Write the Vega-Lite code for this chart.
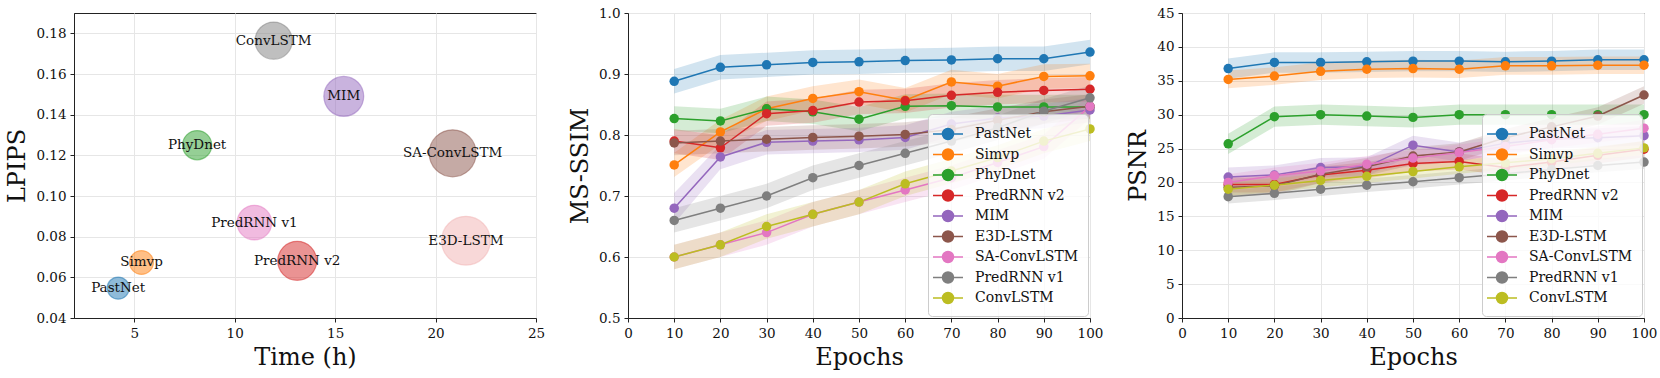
{
  "$schema": "https://vega.github.io/schema/vega-lite/v6.json",
  "padding": {"left": 5, "top": 5, "right": 5, "bottom": 5},
  "background": "white",
  "datasets": {
    "bubbles": [
      {"m": "PastNet", "time": 4.2, "lpips": 0.0547, "bubble": 490},
      {"m": "Simvp", "time": 5.36, "lpips": 0.0673, "bubble": 570},
      {"m": "PhyDnet", "time": 8.13, "lpips": 0.125, "bubble": 855},
      {"m": "ConvLSTM", "time": 11.94, "lpips": 0.1764, "bubble": 1385},
      {"m": "MIM", "time": 15.43, "lpips": 0.149, "bubble": 1590},
      {"m": "SA-ConvLSTM", "time": 20.85, "lpips": 0.121, "bubble": 2206},
      {"m": "PredRNN v1", "time": 10.98, "lpips": 0.0869, "bubble": 1195},
      {"m": "PredRNN v2", "time": 13.11, "lpips": 0.0681, "bubble": 1521},
      {"m": "E3D-LSTM", "time": 21.51, "lpips": 0.078, "bubble": 2376}
    ],
    "msssim": [
      {"m": "PastNet", "e": 10, "v": 0.888, "lo": 0.868, "hi": 0.908},
      {"m": "PastNet", "e": 20, "v": 0.911, "lo": 0.891, "hi": 0.931},
      {"m": "PastNet", "e": 30, "v": 0.915, "lo": 0.895, "hi": 0.935},
      {"m": "PastNet", "e": 40, "v": 0.919, "lo": 0.899, "hi": 0.939},
      {"m": "PastNet", "e": 50, "v": 0.920, "lo": 0.900, "hi": 0.940},
      {"m": "PastNet", "e": 60, "v": 0.922, "lo": 0.902, "hi": 0.942},
      {"m": "PastNet", "e": 70, "v": 0.923, "lo": 0.903, "hi": 0.943},
      {"m": "PastNet", "e": 80, "v": 0.925, "lo": 0.905, "hi": 0.945},
      {"m": "PastNet", "e": 90, "v": 0.925, "lo": 0.905, "hi": 0.945},
      {"m": "PastNet", "e": 100, "v": 0.936, "lo": 0.916, "hi": 0.956},
      {"m": "Simvp", "e": 10, "v": 0.751, "lo": 0.731, "hi": 0.771},
      {"m": "Simvp", "e": 20, "v": 0.805, "lo": 0.785, "hi": 0.825},
      {"m": "Simvp", "e": 30, "v": 0.843, "lo": 0.823, "hi": 0.863},
      {"m": "Simvp", "e": 40, "v": 0.860, "lo": 0.840, "hi": 0.880},
      {"m": "Simvp", "e": 50, "v": 0.871, "lo": 0.851, "hi": 0.891},
      {"m": "Simvp", "e": 60, "v": 0.857, "lo": 0.837, "hi": 0.877},
      {"m": "Simvp", "e": 70, "v": 0.887, "lo": 0.867, "hi": 0.907},
      {"m": "Simvp", "e": 80, "v": 0.880, "lo": 0.860, "hi": 0.900},
      {"m": "Simvp", "e": 90, "v": 0.896, "lo": 0.876, "hi": 0.916},
      {"m": "Simvp", "e": 100, "v": 0.897, "lo": 0.877, "hi": 0.917},
      {"m": "PhyDnet", "e": 10, "v": 0.827, "lo": 0.807, "hi": 0.847},
      {"m": "PhyDnet", "e": 20, "v": 0.823, "lo": 0.803, "hi": 0.843},
      {"m": "PhyDnet", "e": 30, "v": 0.843, "lo": 0.823, "hi": 0.863},
      {"m": "PhyDnet", "e": 40, "v": 0.838, "lo": 0.818, "hi": 0.858},
      {"m": "PhyDnet", "e": 50, "v": 0.826, "lo": 0.806, "hi": 0.846},
      {"m": "PhyDnet", "e": 60, "v": 0.847, "lo": 0.827, "hi": 0.867},
      {"m": "PhyDnet", "e": 70, "v": 0.848, "lo": 0.828, "hi": 0.868},
      {"m": "PhyDnet", "e": 80, "v": 0.846, "lo": 0.826, "hi": 0.866},
      {"m": "PhyDnet", "e": 90, "v": 0.846, "lo": 0.826, "hi": 0.866},
      {"m": "PhyDnet", "e": 100, "v": 0.846, "lo": 0.826, "hi": 0.866},
      {"m": "PredRNN v2", "e": 10, "v": 0.790, "lo": 0.770, "hi": 0.810},
      {"m": "PredRNN v2", "e": 20, "v": 0.779, "lo": 0.759, "hi": 0.799},
      {"m": "PredRNN v2", "e": 30, "v": 0.835, "lo": 0.815, "hi": 0.855},
      {"m": "PredRNN v2", "e": 40, "v": 0.840, "lo": 0.820, "hi": 0.860},
      {"m": "PredRNN v2", "e": 50, "v": 0.854, "lo": 0.834, "hi": 0.874},
      {"m": "PredRNN v2", "e": 60, "v": 0.856, "lo": 0.836, "hi": 0.876},
      {"m": "PredRNN v2", "e": 70, "v": 0.865, "lo": 0.845, "hi": 0.885},
      {"m": "PredRNN v2", "e": 80, "v": 0.870, "lo": 0.850, "hi": 0.890},
      {"m": "PredRNN v2", "e": 90, "v": 0.873, "lo": 0.853, "hi": 0.893},
      {"m": "PredRNN v2", "e": 100, "v": 0.875, "lo": 0.855, "hi": 0.895},
      {"m": "MIM", "e": 10, "v": 0.680, "lo": 0.655, "hi": 0.705},
      {"m": "MIM", "e": 20, "v": 0.764, "lo": 0.744, "hi": 0.784},
      {"m": "MIM", "e": 30, "v": 0.788, "lo": 0.768, "hi": 0.808},
      {"m": "MIM", "e": 40, "v": 0.790, "lo": 0.770, "hi": 0.810},
      {"m": "MIM", "e": 50, "v": 0.792, "lo": 0.772, "hi": 0.812},
      {"m": "MIM", "e": 60, "v": 0.796, "lo": 0.776, "hi": 0.816},
      {"m": "MIM", "e": 70, "v": 0.818, "lo": 0.798, "hi": 0.838},
      {"m": "MIM", "e": 80, "v": 0.828, "lo": 0.808, "hi": 0.848},
      {"m": "MIM", "e": 90, "v": 0.831, "lo": 0.811, "hi": 0.851},
      {"m": "MIM", "e": 100, "v": 0.841, "lo": 0.821, "hi": 0.861},
      {"m": "E3D-LSTM", "e": 10, "v": 0.787, "lo": 0.767, "hi": 0.807},
      {"m": "E3D-LSTM", "e": 20, "v": 0.790, "lo": 0.770, "hi": 0.810},
      {"m": "E3D-LSTM", "e": 30, "v": 0.793, "lo": 0.773, "hi": 0.813},
      {"m": "E3D-LSTM", "e": 40, "v": 0.796, "lo": 0.776, "hi": 0.816},
      {"m": "E3D-LSTM", "e": 50, "v": 0.798, "lo": 0.778, "hi": 0.818},
      {"m": "E3D-LSTM", "e": 60, "v": 0.801, "lo": 0.781, "hi": 0.821},
      {"m": "E3D-LSTM", "e": 70, "v": 0.809, "lo": 0.789, "hi": 0.829},
      {"m": "E3D-LSTM", "e": 80, "v": 0.824, "lo": 0.804, "hi": 0.844},
      {"m": "E3D-LSTM", "e": 90, "v": 0.838, "lo": 0.818, "hi": 0.858},
      {"m": "E3D-LSTM", "e": 100, "v": 0.847, "lo": 0.827, "hi": 0.867},
      {"m": "SA-ConvLSTM", "e": 10, "v": 0.600, "lo": 0.580, "hi": 0.620},
      {"m": "SA-ConvLSTM", "e": 20, "v": 0.620, "lo": 0.600, "hi": 0.640},
      {"m": "SA-ConvLSTM", "e": 30, "v": 0.640, "lo": 0.620, "hi": 0.660},
      {"m": "SA-ConvLSTM", "e": 40, "v": 0.670, "lo": 0.650, "hi": 0.690},
      {"m": "SA-ConvLSTM", "e": 50, "v": 0.690, "lo": 0.670, "hi": 0.710},
      {"m": "SA-ConvLSTM", "e": 60, "v": 0.710, "lo": 0.690, "hi": 0.730},
      {"m": "SA-ConvLSTM", "e": 70, "v": 0.730, "lo": 0.710, "hi": 0.750},
      {"m": "SA-ConvLSTM", "e": 80, "v": 0.755, "lo": 0.735, "hi": 0.775},
      {"m": "SA-ConvLSTM", "e": 90, "v": 0.781, "lo": 0.761, "hi": 0.801},
      {"m": "SA-ConvLSTM", "e": 100, "v": 0.847, "lo": 0.827, "hi": 0.867},
      {"m": "PredRNN v1", "e": 10, "v": 0.660, "lo": 0.640, "hi": 0.680},
      {"m": "PredRNN v1", "e": 20, "v": 0.680, "lo": 0.660, "hi": 0.700},
      {"m": "PredRNN v1", "e": 30, "v": 0.700, "lo": 0.680, "hi": 0.720},
      {"m": "PredRNN v1", "e": 40, "v": 0.730, "lo": 0.710, "hi": 0.750},
      {"m": "PredRNN v1", "e": 50, "v": 0.750, "lo": 0.730, "hi": 0.770},
      {"m": "PredRNN v1", "e": 60, "v": 0.770, "lo": 0.750, "hi": 0.790},
      {"m": "PredRNN v1", "e": 70, "v": 0.790, "lo": 0.770, "hi": 0.810},
      {"m": "PredRNN v1", "e": 80, "v": 0.812, "lo": 0.792, "hi": 0.832},
      {"m": "PredRNN v1", "e": 90, "v": 0.839, "lo": 0.819, "hi": 0.859},
      {"m": "PredRNN v1", "e": 100, "v": 0.861, "lo": 0.841, "hi": 0.881},
      {"m": "ConvLSTM", "e": 10, "v": 0.600, "lo": 0.580, "hi": 0.620},
      {"m": "ConvLSTM", "e": 20, "v": 0.620, "lo": 0.600, "hi": 0.640},
      {"m": "ConvLSTM", "e": 30, "v": 0.650, "lo": 0.630, "hi": 0.670},
      {"m": "ConvLSTM", "e": 40, "v": 0.670, "lo": 0.650, "hi": 0.690},
      {"m": "ConvLSTM", "e": 50, "v": 0.690, "lo": 0.670, "hi": 0.710},
      {"m": "ConvLSTM", "e": 60, "v": 0.720, "lo": 0.700, "hi": 0.740},
      {"m": "ConvLSTM", "e": 70, "v": 0.741, "lo": 0.721, "hi": 0.761},
      {"m": "ConvLSTM", "e": 80, "v": 0.763, "lo": 0.743, "hi": 0.783},
      {"m": "ConvLSTM", "e": 90, "v": 0.790, "lo": 0.770, "hi": 0.810},
      {"m": "ConvLSTM", "e": 100, "v": 0.810, "lo": 0.790, "hi": 0.830}
    ],
    "psnr": [
      {"m": "PastNet", "e": 10, "v": 36.8, "lo": 35.3, "hi": 38.3},
      {"m": "PastNet", "e": 20, "v": 37.7, "lo": 36.2, "hi": 39.2},
      {"m": "PastNet", "e": 30, "v": 37.7, "lo": 36.2, "hi": 39.2},
      {"m": "PastNet", "e": 40, "v": 37.8, "lo": 36.3, "hi": 39.3},
      {"m": "PastNet", "e": 50, "v": 37.9, "lo": 36.4, "hi": 39.4},
      {"m": "PastNet", "e": 60, "v": 37.9, "lo": 36.4, "hi": 39.4},
      {"m": "PastNet", "e": 70, "v": 37.8, "lo": 36.3, "hi": 39.3},
      {"m": "PastNet", "e": 80, "v": 37.9, "lo": 36.4, "hi": 39.4},
      {"m": "PastNet", "e": 90, "v": 38.1, "lo": 36.6, "hi": 39.6},
      {"m": "PastNet", "e": 100, "v": 38.1, "lo": 36.6, "hi": 39.6},
      {"m": "Simvp", "e": 10, "v": 35.2, "lo": 33.9, "hi": 36.5},
      {"m": "Simvp", "e": 20, "v": 35.7, "lo": 34.4, "hi": 37.0},
      {"m": "Simvp", "e": 30, "v": 36.4, "lo": 35.1, "hi": 37.7},
      {"m": "Simvp", "e": 40, "v": 36.7, "lo": 35.4, "hi": 38.0},
      {"m": "Simvp", "e": 50, "v": 36.8, "lo": 35.5, "hi": 38.1},
      {"m": "Simvp", "e": 60, "v": 36.7, "lo": 35.4, "hi": 38.0},
      {"m": "Simvp", "e": 70, "v": 37.2, "lo": 35.9, "hi": 38.5},
      {"m": "Simvp", "e": 80, "v": 37.2, "lo": 35.9, "hi": 38.5},
      {"m": "Simvp", "e": 90, "v": 37.3, "lo": 36.0, "hi": 38.6},
      {"m": "Simvp", "e": 100, "v": 37.3, "lo": 36.0, "hi": 38.6},
      {"m": "PhyDnet", "e": 10, "v": 25.7, "lo": 24.2, "hi": 27.2},
      {"m": "PhyDnet", "e": 20, "v": 29.7, "lo": 28.2, "hi": 31.2},
      {"m": "PhyDnet", "e": 30, "v": 30.0, "lo": 28.5, "hi": 31.5},
      {"m": "PhyDnet", "e": 40, "v": 29.8, "lo": 28.3, "hi": 31.3},
      {"m": "PhyDnet", "e": 50, "v": 29.6, "lo": 28.1, "hi": 31.1},
      {"m": "PhyDnet", "e": 60, "v": 30.0, "lo": 28.5, "hi": 31.5},
      {"m": "PhyDnet", "e": 70, "v": 30.0, "lo": 28.5, "hi": 31.5},
      {"m": "PhyDnet", "e": 80, "v": 30.0, "lo": 28.5, "hi": 31.5},
      {"m": "PhyDnet", "e": 90, "v": 30.0, "lo": 28.5, "hi": 31.5},
      {"m": "PhyDnet", "e": 100, "v": 30.0, "lo": 28.5, "hi": 31.5},
      {"m": "PredRNN v2", "e": 10, "v": 19.7, "lo": 18.5, "hi": 20.9},
      {"m": "PredRNN v2", "e": 20, "v": 19.7, "lo": 18.5, "hi": 20.9},
      {"m": "PredRNN v2", "e": 30, "v": 21.1, "lo": 19.9, "hi": 22.3},
      {"m": "PredRNN v2", "e": 40, "v": 21.8, "lo": 20.6, "hi": 23.0},
      {"m": "PredRNN v2", "e": 50, "v": 22.8, "lo": 21.6, "hi": 24.0},
      {"m": "PredRNN v2", "e": 60, "v": 23.1, "lo": 21.9, "hi": 24.3},
      {"m": "PredRNN v2", "e": 70, "v": 22.2, "lo": 21.0, "hi": 23.4},
      {"m": "PredRNN v2", "e": 80, "v": 23.0, "lo": 21.8, "hi": 24.2},
      {"m": "PredRNN v2", "e": 90, "v": 24.0, "lo": 22.8, "hi": 25.2},
      {"m": "PredRNN v2", "e": 100, "v": 24.9, "lo": 23.7, "hi": 26.1},
      {"m": "MIM", "e": 10, "v": 20.8, "lo": 19.4, "hi": 22.2},
      {"m": "MIM", "e": 20, "v": 21.1, "lo": 19.7, "hi": 22.5},
      {"m": "MIM", "e": 30, "v": 22.2, "lo": 20.8, "hi": 23.6},
      {"m": "MIM", "e": 40, "v": 22.3, "lo": 20.9, "hi": 23.7},
      {"m": "MIM", "e": 50, "v": 25.5, "lo": 24.1, "hi": 26.9},
      {"m": "MIM", "e": 60, "v": 24.5, "lo": 23.1, "hi": 25.9},
      {"m": "MIM", "e": 70, "v": 25.8, "lo": 24.4, "hi": 27.2},
      {"m": "MIM", "e": 80, "v": 26.4, "lo": 25.0, "hi": 27.8},
      {"m": "MIM", "e": 90, "v": 26.6, "lo": 25.2, "hi": 28.0},
      {"m": "MIM", "e": 100, "v": 26.9, "lo": 25.5, "hi": 28.3},
      {"m": "E3D-LSTM", "e": 10, "v": 19.3, "lo": 18.0, "hi": 20.6},
      {"m": "E3D-LSTM", "e": 20, "v": 19.5, "lo": 18.2, "hi": 20.8},
      {"m": "E3D-LSTM", "e": 30, "v": 21.2, "lo": 19.9, "hi": 22.5},
      {"m": "E3D-LSTM", "e": 40, "v": 22.3, "lo": 21.0, "hi": 23.6},
      {"m": "E3D-LSTM", "e": 50, "v": 23.9, "lo": 22.6, "hi": 25.2},
      {"m": "E3D-LSTM", "e": 60, "v": 24.5, "lo": 23.2, "hi": 25.8},
      {"m": "E3D-LSTM", "e": 70, "v": 26.6, "lo": 25.3, "hi": 27.9},
      {"m": "E3D-LSTM", "e": 80, "v": 28.2, "lo": 26.9, "hi": 29.5},
      {"m": "E3D-LSTM", "e": 90, "v": 29.8, "lo": 28.5, "hi": 31.1},
      {"m": "E3D-LSTM", "e": 100, "v": 32.9, "lo": 31.6, "hi": 34.2},
      {"m": "SA-ConvLSTM", "e": 10, "v": 20.0, "lo": 18.8, "hi": 21.2},
      {"m": "SA-ConvLSTM", "e": 20, "v": 21.0, "lo": 19.8, "hi": 22.2},
      {"m": "SA-ConvLSTM", "e": 30, "v": 21.7, "lo": 20.5, "hi": 22.9},
      {"m": "SA-ConvLSTM", "e": 40, "v": 22.7, "lo": 21.5, "hi": 23.9},
      {"m": "SA-ConvLSTM", "e": 50, "v": 23.6, "lo": 22.4, "hi": 24.8},
      {"m": "SA-ConvLSTM", "e": 60, "v": 24.4, "lo": 23.2, "hi": 25.6},
      {"m": "SA-ConvLSTM", "e": 70, "v": 25.3, "lo": 24.1, "hi": 26.5},
      {"m": "SA-ConvLSTM", "e": 80, "v": 26.3, "lo": 25.1, "hi": 27.5},
      {"m": "SA-ConvLSTM", "e": 90, "v": 27.1, "lo": 25.9, "hi": 28.3},
      {"m": "SA-ConvLSTM", "e": 100, "v": 28.0, "lo": 26.8, "hi": 29.2},
      {"m": "PredRNN v1", "e": 10, "v": 17.9, "lo": 16.9, "hi": 18.9},
      {"m": "PredRNN v1", "e": 20, "v": 18.4, "lo": 17.4, "hi": 19.4},
      {"m": "PredRNN v1", "e": 30, "v": 19.0, "lo": 18.0, "hi": 20.0},
      {"m": "PredRNN v1", "e": 40, "v": 19.6, "lo": 18.6, "hi": 20.6},
      {"m": "PredRNN v1", "e": 50, "v": 20.1, "lo": 19.1, "hi": 21.1},
      {"m": "PredRNN v1", "e": 60, "v": 20.7, "lo": 19.7, "hi": 21.7},
      {"m": "PredRNN v1", "e": 70, "v": 21.3, "lo": 20.3, "hi": 22.3},
      {"m": "PredRNN v1", "e": 80, "v": 21.9, "lo": 20.9, "hi": 22.9},
      {"m": "PredRNN v1", "e": 90, "v": 22.5, "lo": 21.5, "hi": 23.5},
      {"m": "PredRNN v1", "e": 100, "v": 23.0, "lo": 22.0, "hi": 24.0},
      {"m": "ConvLSTM", "e": 10, "v": 19.0, "lo": 18.0, "hi": 20.0},
      {"m": "ConvLSTM", "e": 20, "v": 19.6, "lo": 18.6, "hi": 20.6},
      {"m": "ConvLSTM", "e": 30, "v": 20.3, "lo": 19.3, "hi": 21.3},
      {"m": "ConvLSTM", "e": 40, "v": 20.9, "lo": 19.9, "hi": 21.9},
      {"m": "ConvLSTM", "e": 50, "v": 21.6, "lo": 20.6, "hi": 22.6},
      {"m": "ConvLSTM", "e": 60, "v": 22.3, "lo": 21.3, "hi": 23.3},
      {"m": "ConvLSTM", "e": 70, "v": 22.9, "lo": 21.9, "hi": 23.9},
      {"m": "ConvLSTM", "e": 80, "v": 23.5, "lo": 22.5, "hi": 24.5},
      {"m": "ConvLSTM", "e": 90, "v": 24.3, "lo": 23.3, "hi": 25.3},
      {"m": "ConvLSTM", "e": 100, "v": 25.1, "lo": 24.1, "hi": 26.1}
    ]
  },
  "bounds": "flush",
  "spacing": 92,
  "resolve": {"scale": {"color": "shared"}, "legend": {"color": "independent"}},
  "hconcat": [
    {
      "width": 462,
      "height": 305,
      "data": {"name": "bubbles"},
      "encoding": {
        "x": {"field": "time", "type": "quantitative", "scale": {"domain": [2, 25], "nice": false, "zero": false}, "axis": {"title": "Time (h)", "values": [5, 10, 15, 20, 25]}},
        "y": {"field": "lpips", "type": "quantitative", "scale": {"domain": [0.04, 0.19], "nice": false, "zero": false}, "axis": {"title": "LPIPS", "values": [0.04, 0.06, 0.08, 0.1, 0.12, 0.14, 0.16, 0.18], "format": ".2f"}}
      },
      "layer": [
        {
          "mark": {"type": "circle", "fillOpacity": 0.5, "strokeOpacity": 0.5, "strokeWidth": 1.2},
          "encoding": {
            "size": {"field": "bubble", "type": "quantitative", "scale": {"domain": [0, 2500], "range": [0, 2500]}, "legend": null},
            "fill": {"field": "m", "type": "nominal", "legend": null, "scale": {"domain": ["PastNet", "Simvp", "PhyDnet", "PredRNN v2", "MIM", "SA-ConvLSTM", "PredRNN v1", "ConvLSTM", "E3D-LSTM"], "range": ["#1f77b4", "#ff7f0e", "#2ca02c", "#d62728", "#9467bd", "#8c564b", "#e377c2", "#7f7f7f", "#f1b2b2"]}},
            "stroke": {"field": "m", "type": "nominal", "legend": null, "scale": {"domain": ["PastNet", "Simvp", "PhyDnet", "PredRNN v2", "MIM", "SA-ConvLSTM", "PredRNN v1", "ConvLSTM", "E3D-LSTM"], "range": ["#1f77b4", "#ff7f0e", "#2ca02c", "#d62728", "#9467bd", "#8c564b", "#e377c2", "#7f7f7f", "#f1b2b2"]}}
          }
        },
        {
          "mark": {"type": "text", "font": "DejaVu Serif", "fontSize": 13.5, "color": "#111111"},
          "encoding": {"text": {"field": "m", "type": "nominal"}}
        }
      ]
    },
    {
      "width": 462,
      "height": 305,
      "data": {"name": "msssim"},
      "encoding": {
        "x": {"field": "e", "type": "quantitative", "scale": {"domain": [0, 100], "nice": false}, "axis": {"title": "Epochs", "values": [0, 10, 20, 30, 40, 50, 60, 70, 80, 90, 100]}},
        "color": {"field": "m", "type": "nominal", "scale": {"domain": ["PastNet", "Simvp", "PhyDnet", "PredRNN v2", "MIM", "E3D-LSTM", "SA-ConvLSTM", "PredRNN v1", "ConvLSTM"], "range": ["#1f77b4", "#ff7f0e", "#2ca02c", "#d62728", "#9467bd", "#8c564b", "#e377c2", "#7f7f7f", "#bcbd22"]}, "legend": {"title": null}}
      },
      "layer": [
        {
          "mark": {"type": "area", "opacity": 0.2},
          "encoding": {
            "y": {"field": "lo", "type": "quantitative", "scale": {"domain": [0.5, 1.0], "nice": false, "zero": false}, "axis": {"title": "MS-SSIM", "values": [0.5, 0.6, 0.7, 0.8, 0.9, 1.0], "format": ".1f"}},
            "y2": {"field": "hi"}
          }
        },
        {
          "mark": {"type": "line", "strokeWidth": 1.5},
          "encoding": {"y": {"field": "v", "type": "quantitative", "scale": {"domain": [0.5, 1.0], "nice": false, "zero": false}, "axis": {"title": "MS-SSIM", "values": [0.5, 0.6, 0.7, 0.8, 0.9, 1.0], "format": ".1f"}}}
        },
        {
          "mark": {"type": "point", "filled": true, "size": 90, "opacity": 1},
          "encoding": {"y": {"field": "v", "type": "quantitative", "scale": {"domain": [0.5, 1.0], "nice": false, "zero": false}, "axis": {"title": "MS-SSIM", "values": [0.5, 0.6, 0.7, 0.8, 0.9, 1.0], "format": ".1f"}}}
        }
      ]
    },
    {
      "width": 462,
      "height": 305,
      "data": {"name": "psnr"},
      "encoding": {
        "x": {"field": "e", "type": "quantitative", "scale": {"domain": [0, 100], "nice": false}, "axis": {"title": "Epochs", "values": [0, 10, 20, 30, 40, 50, 60, 70, 80, 90, 100]}},
        "color": {"field": "m", "type": "nominal", "scale": {"domain": ["PastNet", "Simvp", "PhyDnet", "PredRNN v2", "MIM", "E3D-LSTM", "SA-ConvLSTM", "PredRNN v1", "ConvLSTM"], "range": ["#1f77b4", "#ff7f0e", "#2ca02c", "#d62728", "#9467bd", "#8c564b", "#e377c2", "#7f7f7f", "#bcbd22"]}, "legend": {"title": null}}
      },
      "layer": [
        {
          "mark": {"type": "area", "opacity": 0.2},
          "encoding": {
            "y": {"field": "lo", "type": "quantitative", "scale": {"domain": [0, 45], "nice": false}, "axis": {"title": "PSNR", "values": [0, 5, 10, 15, 20, 25, 30, 35, 40, 45]}},
            "y2": {"field": "hi"}
          }
        },
        {
          "mark": {"type": "line", "strokeWidth": 1.5},
          "encoding": {"y": {"field": "v", "type": "quantitative", "scale": {"domain": [0, 45], "nice": false}, "axis": {"title": "PSNR", "values": [0, 5, 10, 15, 20, 25, 30, 35, 40, 45]}}}
        },
        {
          "mark": {"type": "point", "filled": true, "size": 90, "opacity": 1},
          "encoding": {"y": {"field": "v", "type": "quantitative", "scale": {"domain": [0, 45], "nice": false}, "axis": {"title": "PSNR", "values": [0, 5, 10, 15, 20, 25, 30, 35, 40, 45]}}}
        }
      ]
    }
  ],
  "config": {
    "font": "DejaVu Serif",
    "view": {"stroke": "#222222", "strokeWidth": 1},
    "axis": {
      "labelFont": "DejaVu Serif", "labelFontSize": 13.5, "labelColor": "#111111",
      "titleFont": "DejaVu Serif", "titleFontSize": 24, "titleFontWeight": "normal", "titleColor": "#111111",
      "domainColor": "#222222", "domainWidth": 1, "tickColor": "#222222", "tickSize": 4, "tickWidth": 1,
      "gridColor": "#e6e6e6", "gridWidth": 1, "labelPadding": 4, "titlePadding": 6,
      "labelFlush": false, "labelOverlap": false
    },
    "legend": {
      "orient": "bottom-right", "offset": 2, "padding": 9,
      "fillColor": "rgba(255,255,255,0.8)", "strokeColor": "#cccccc", "cornerRadius": 4,
      "labelFont": "DejaVu Serif", "labelFontSize": 14, "labelColor": "#111111",
      "symbolType": "M-1.5,0L1.5,0M-0.55,0A0.55,0.55,0,1,0,0.55,0A0.55,0.55,0,1,0,-0.55,0Z",
      "symbolSize": 400, "symbolStrokeWidth": 1.5, "symbolOpacity": 1,
      "labelOffset": 16, "rowPadding": 0.5, "zindex": 1
    }
  }
}
